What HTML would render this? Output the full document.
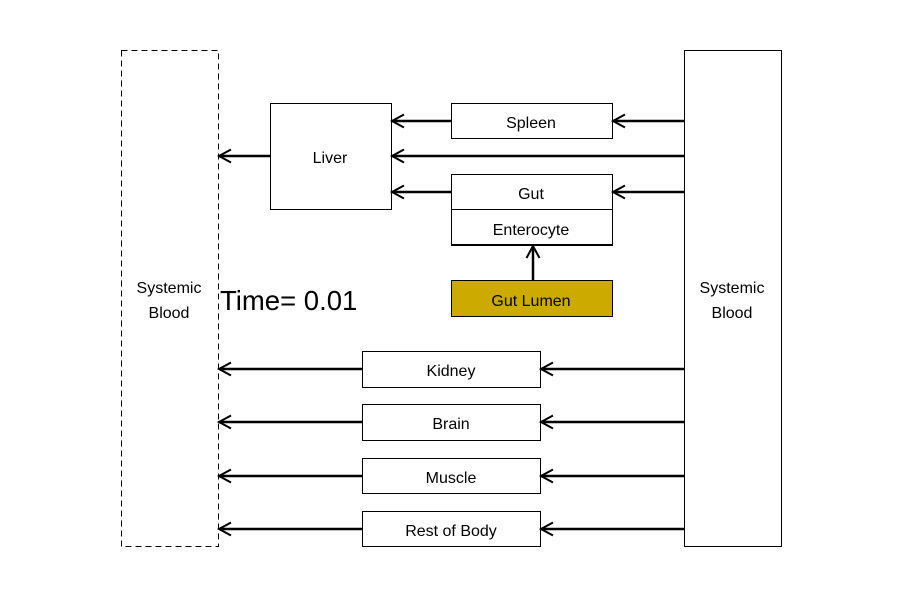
<!DOCTYPE html>
<html><head><style>body{margin:0;background:#fff}svg{display:block}text{font-family:"Liberation Sans",sans-serif;fill:#000}</style></head>
<body>
<svg width="900" height="600" xmlns="http://www.w3.org/2000/svg">
<defs>
<marker id="a" markerWidth="16" markerHeight="16" refX="13" refY="8" orient="auto" markerUnits="userSpaceOnUse">
<path d="M1,1.5 L13,8 L1,14.5" fill="none" stroke="#000" stroke-width="2"/>
</marker>
</defs>
<g fill="none" stroke="#000" stroke-width="1">
<rect x="121.5" y="50.5" width="97" height="496" stroke-dasharray="6,4"/>
<rect x="684.5" y="50.5" width="97" height="496"/>
<rect x="270.5" y="103.5" width="121" height="106"/>
<rect x="451.5" y="103.5" width="161" height="35"/>
<rect x="451.5" y="174.5" width="161" height="35"/>
<rect x="451.5" y="209.5" width="161" height="35"/>
<rect x="362.5" y="351.5" width="178" height="36"/>
<rect x="362.5" y="404.5" width="178" height="36"/>
<rect x="362.5" y="458.5" width="178" height="35"/>
<rect x="362.5" y="511.5" width="178" height="35"/>
</g>
<line x1="451" y1="245" x2="613" y2="245" stroke="#000" stroke-width="2"/>
<rect x="451.5" y="280.5" width="161" height="36" fill="#ccaa00" stroke="#000"/>
<g stroke="#000" stroke-width="2.5" marker-end="url(#a)">
<line x1="684" y1="121" x2="613" y2="121"/>
<line x1="451" y1="121" x2="392" y2="121"/>
<line x1="684" y1="156" x2="392" y2="156"/>
<line x1="684" y1="192" x2="613" y2="192"/>
<line x1="451" y1="192" x2="392" y2="192"/>
<line x1="270" y1="156" x2="219" y2="156"/>
<line x1="533" y1="280" x2="533" y2="246"/>
<line x1="684" y1="369" x2="541" y2="369"/>
<line x1="362" y1="369" x2="219" y2="369"/>
<line x1="684" y1="422" x2="541" y2="422"/>
<line x1="362" y1="422" x2="219" y2="422"/>
<line x1="684" y1="476" x2="541" y2="476"/>
<line x1="362" y1="476" x2="219" y2="476"/>
<line x1="684" y1="529" x2="541" y2="529"/>
<line x1="362" y1="529" x2="219" y2="529"/>
</g>
<g font-size="16" text-anchor="middle">
<text x="169" y="293">Systemic</text><text x="169" y="318">Blood</text>
<text x="732" y="293">Systemic</text><text x="732" y="318">Blood</text>
<text x="330" y="163">Liver</text>
<text x="531" y="128">Spleen</text>
<text x="531" y="199">Gut</text>
<text x="531" y="235">Enterocyte</text>
<text x="531" y="306">Gut Lumen</text>
<text x="451" y="376">Kidney</text>
<text x="451" y="429">Brain</text>
<text x="451" y="483">Muscle</text>
<text x="451" y="536">Rest of Body</text>
</g>
<text x="220" y="310" font-size="27.5">Time= 0.01</text>
</svg>
</body></html>
